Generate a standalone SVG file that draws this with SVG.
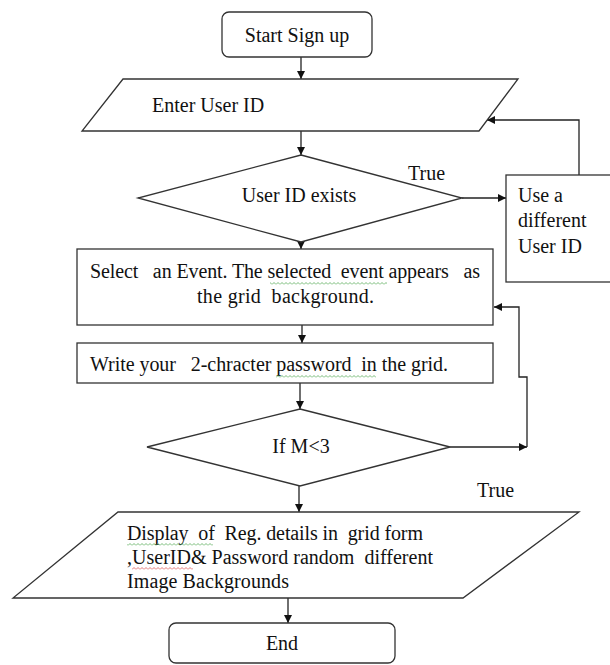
<svg xmlns="http://www.w3.org/2000/svg" width="610" height="665" viewBox="0 0 610 665">
<style>
.s{fill:#fff;stroke:#333;stroke-width:1.3}
.t{font-family:"Liberation Serif","Times New Roman",serif;font-size:20px;fill:#111}
.c{text-anchor:middle}
.l{fill:none;stroke:#222;stroke-width:1.3}
</style>
<defs>
<marker id="a" viewBox="0 0 10 10" refX="10" refY="5" markerWidth="8" markerHeight="8" markerUnits="userSpaceOnUse" orient="auto">
<path d="M0,0 L10,5 L0,10 z" fill="#111"/>
</marker>
<pattern id="sg" width="4" height="3" patternUnits="userSpaceOnUse"><path d="M0,2.5 L2,0.5 L4,2.5" stroke="#5a5" fill="none" stroke-width="0.8"/></pattern>
<pattern id="sr" width="4" height="3" patternUnits="userSpaceOnUse"><path d="M0,2.5 L2,0.5 L4,2.5" stroke="#d55" fill="none" stroke-width="0.8"/></pattern>
</defs>
<rect width="610" height="665" fill="#fff"/>

<g id="connectors">
<path class="l" d="M301,57 V79" marker-end="url(#a)"/>
<path class="l" d="M301,131 V155" marker-end="url(#a)"/>
<path class="l" d="M301,242 V249" marker-end="url(#a)"/>
<path class="l" d="M462,198 H506" marker-end="url(#a)"/>
<path class="l" d="M579,175 V120 H487" marker-end="url(#a)"/>
<path class="l" d="M302,325 V343" marker-end="url(#a)"/>
<path class="l" d="M300,383 V409" marker-end="url(#a)"/>
<path class="l" d="M450,447 H527" marker-end="url(#a)"/>
<path class="l" d="M527,447 V377 H519 V307 H494" marker-end="url(#a)"/>
<path class="l" d="M299,486 V512" marker-end="url(#a)"/>
<path class="l" d="M288,598 V623" marker-end="url(#a)"/>
<text class="t" x="408" y="180">True</text>
<text class="t" x="477" y="497">True</text>
</g>

<g id="start">
<rect class="s" x="222" y="12" width="150" height="45" rx="7"/>
<text class="t c" x="297" y="42">Start Sign up</text>
</g>

<g id="enter-user-id">
<path class="s" d="M123,79 H518 L479,131 H82 Z"/>
<text class="t" x="152" y="112">Enter User ID</text>
</g>

<g id="user-id-exists">
<path class="s" d="M301,155 L462,198 L301,242 L138,198 Z"/>
<text class="t c" x="299" y="202">User ID exists</text>
</g>

<g id="use-different">
<rect class="s" x="506" y="175" width="120" height="107"/>
<text class="t" x="518" y="202">Use a</text>
<text class="t" x="518" y="227">different</text>
<text class="t" x="518" y="253">User ID</text>
</g>

<g id="select-event">
<rect class="s" x="77" y="249" width="416" height="76"/>
<text class="t" x="90" y="278" xml:space="preserve" textLength="390" lengthAdjust="spacing">Select   an Event. The selected  event appears   as</text>
<text class="t" x="197" y="303" xml:space="preserve" textLength="177" lengthAdjust="spacing">the grid  background.</text>
<rect x="270" y="282" width="117" height="3" fill="url(#sg)"/>
</g>

<g id="write-password">
<rect class="s" x="77" y="343" width="416" height="40"/>
<text class="t" x="90" y="371" xml:space="preserve" textLength="358" lengthAdjust="spacing">Write your   2-chracter password  in the grid.</text>
<rect x="276" y="375" width="100" height="3" fill="url(#sg)"/>
</g>

<g id="if-m-lt-3">
<path class="s" d="M300,409 L450,447 L300,486 L147,447 Z"/>
<text class="t c" x="301" y="453">If M&lt;3</text>
</g>

<g id="display-details">
<path class="s" d="M118,512 H579 L463,598 H13 Z"/>
<text class="t" x="127" y="540" xml:space="preserve" textLength="296" lengthAdjust="spacing">Display  of  Reg. details in  grid form</text>
<text class="t" x="127" y="564" xml:space="preserve" textLength="306" lengthAdjust="spacing">,UserID&amp; Password random  different</text>
<text class="t" x="127" y="588" xml:space="preserve" textLength="162" lengthAdjust="spacing">Image Backgrounds</text>
<rect x="127" y="543" width="86" height="3" fill="url(#sg)"/>
<rect x="132" y="567" width="61" height="3" fill="url(#sr)"/>
</g>

<g id="end">
<rect class="s" x="169" y="623" width="226" height="40" rx="7"/>
<text class="t c" x="282" y="650">End</text>
</g>
</svg>
